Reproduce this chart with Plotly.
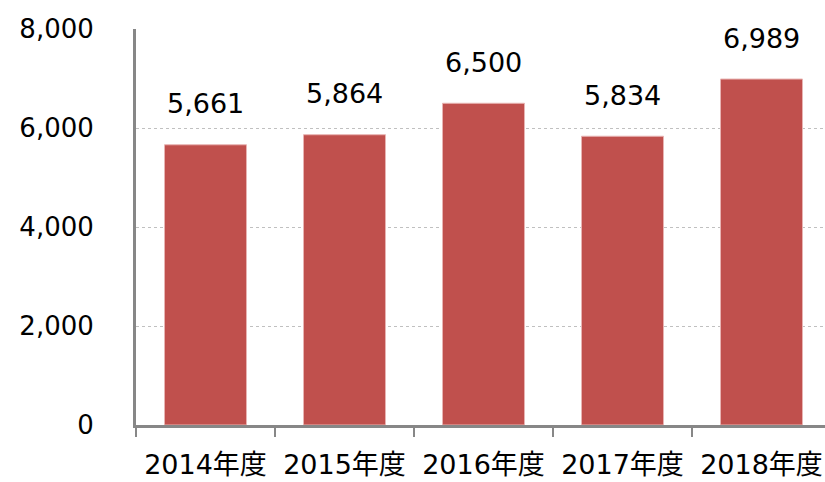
import plotly.graph_objects as go

categories = ["2014年度", "2015年度", "2016年度", "2017年度", "2018年度"]
values = [5661, 5864, 6500, 5834, 6989]
y_ticks = [0, 2000, 4000, 6000, 8000]
y_tick_labels = ["0", "2,000", "4,000", "6,000", "8,000"]

FONT = "DejaVu Sans, Verdana, Noto Sans CJK JP, sans-serif"

fig = go.Figure()
fig.add_trace(go.Bar(
    x=categories, y=values,
    marker=dict(color="#C0504D", line=dict(color="#E8B4B3", width=1)),
    width=0.59,
    hoverinfo="skip",
))

for c, v in zip(categories, values):
    fig.add_annotation(
        x=c, y=v, text=f"{v:,}", showarrow=False,
        yanchor="middle", yshift=41,
        font=dict(family=FONT, size=27, color="#000000"),
    )

W, H = 825, 482
ml, mt, mb = 136, 29, 57
plot_w = W - ml
cat_w = 139.0

fig.update_layout(
    width=W, height=H,
    margin=dict(l=ml, r=0, t=mt, b=mb, pad=0, autoexpand=False),
    paper_bgcolor="white", plot_bgcolor="white",
    showlegend=False,
    font=dict(family=FONT, size=26, color="#000000"),
    xaxis=dict(
        type="category",
        range=[-0.5, -0.5 + plot_w / cat_w],
        showline=True, linecolor="#878787", linewidth=3,
        ticks="outside", tickson="boundaries", ticklen=9, tickwidth=2, tickcolor="#878787",
        showgrid=False, zeroline=False,
        ticklabelstandoff=14,
        automargin=False,
        tickfont=dict(family=FONT, size=27, color="#000000"),
        fixedrange=True,
    ),
    yaxis=dict(
        range=[0, 8000],
        tickvals=y_ticks, ticktext=y_tick_labels,
        showline=True, linecolor="#878787", linewidth=3,
        ticks="", showgrid=True, gridcolor="#C0C0C0", griddash="dot", gridwidth=1,
        zeroline=False,
        ticklabelstandoff=34,
        automargin=False,
        tickfont=dict(family=FONT, size=26, color="#000000"),
        fixedrange=True,
    ),
)

fig.write_html(
    "out.html",
    config={"displayModeBar": False},
    post_script="document.body.style.margin='0';document.body.style.overflow='hidden';",
)
